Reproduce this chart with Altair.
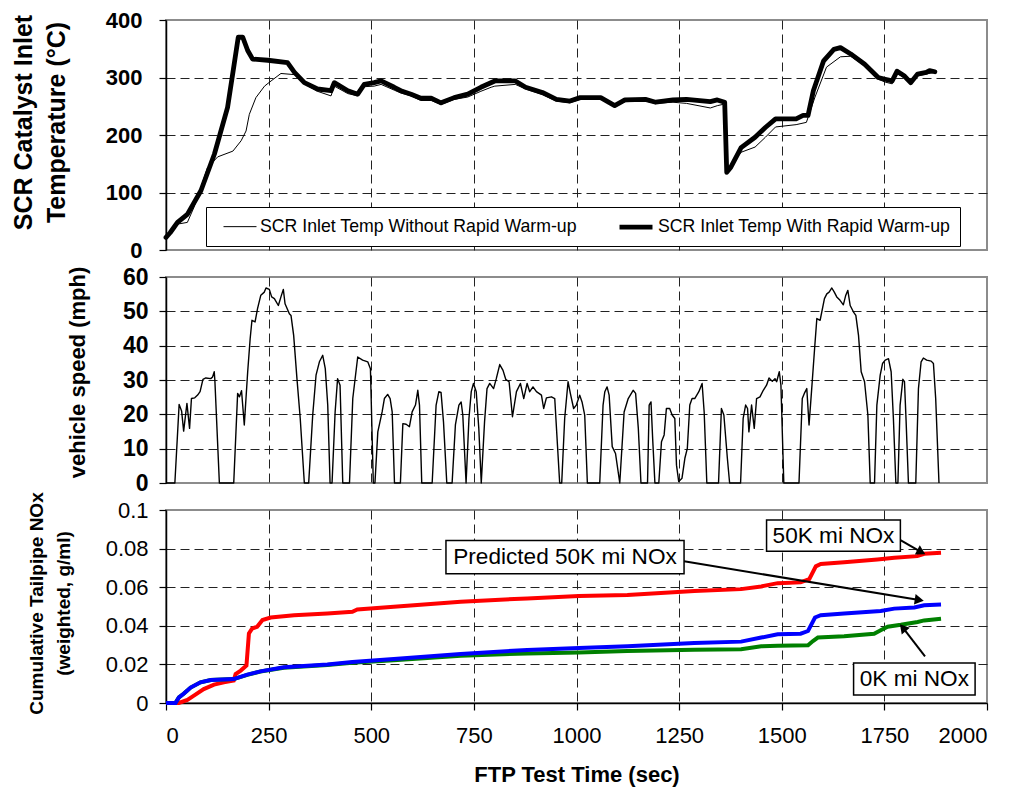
import altair as alt
import pandas as pd

FONT = "Liberation Sans"

# ---------------- data ----------------
# SCR inlet temperature without rapid warm-up (thin line)
temp_without_t = [0, 28, 52, 68, 85, 101, 126, 163, 183, 195, 203, 219, 240, 256, 280, 313, 337, 369,
                  402, 410, 443, 467, 483, 507, 524, 556, 572, 597, 621, 646, 670, 702, 735, 767, 792,
                  801, 851, 876, 917, 951, 984, 1009, 1059, 1093, 1118, 1168, 1193, 1235, 1268, 1326,
                  1343, 1361, 1366, 1376, 1401, 1435, 1460, 1485, 1535, 1560, 1581, 1609, 1643, 1668,
                  1702, 1735, 1752, 1769, 1781, 1798, 1814, 1831, 1852, 1873]
temp_without_v = [20, 45, 48, 74, 109, 143, 162, 172, 190, 207, 236, 265, 285, 294, 307, 305, 289, 276,
                  268, 285, 272, 268, 284, 285, 288, 278, 273, 268, 260, 260, 253, 262, 266, 276, 283,
                  285, 288, 280, 270, 259, 256, 262, 264, 249, 258, 259, 255, 257, 255, 247,
                  251, 254, 138, 147, 170, 179, 196, 214, 218, 222, 266, 318, 336, 337,
                  320, 297, 292, 289, 307, 300, 289, 303, 306, 309]

# SCR inlet temperature with rapid warm-up (thick line)
temp_with_t = [0, 10, 20, 28, 52, 85, 118, 150, 166, 176, 187, 199, 211, 248, 296, 313, 337, 369, 402,
               410, 443, 467, 483, 507, 524, 556, 572, 597, 621, 646, 670, 702, 735, 767, 801, 851, 876,
               917, 951, 984, 1009, 1059, 1093, 1118, 1168, 1193, 1235, 1268, 1326, 1343, 1361, 1366,
               1376, 1401, 1435, 1460, 1485, 1535, 1552, 1564, 1577, 1602, 1627, 1643, 1668, 1702,
               1735, 1752, 1769, 1781, 1798, 1814, 1831, 1852, 1860, 1873]
temp_with_v = [22, 30, 40, 48, 62, 103, 167, 248, 323, 370, 370, 347, 332, 330, 326, 309, 291, 280, 277,
               291, 277, 271, 288, 291, 294, 283, 277, 271, 264, 264, 256, 265, 271, 283, 294, 294, 283,
               274, 262, 259, 265, 265, 251, 261, 262, 257, 261, 262, 258, 261, 257, 135,
               144, 178, 196, 213, 228, 228, 234, 234, 277, 329, 349, 352, 341, 323,
               300, 297, 294, 311, 303, 291, 306, 309, 312, 310]

# vehicle speed (mph)
speed_t = [0, 21.6, 32, 38, 43, 51, 57.4, 62, 70, 77, 83, 90, 97, 109, 113.5, 117.5, 119, 130, 165,
           174.5, 179, 184, 190.7, 199, 205, 209.4, 217, 223, 231, 239.5, 243.6, 251.7, 257.4, 264,
           273.7, 280, 285.8, 290, 300.5, 304.5, 311, 319, 327, 337, 347.6, 357.4, 365.5, 373.7,
           381.8, 388, 394, 399.7, 404.5, 412, 418, 424, 430.6, 447, 455, 467, 479, 491.5, 498,
           505, 509, 516, 526.5, 532, 540, 546, 551, 556.6, 571, 577, 585, 593, 599.6, 607.7, 613.4,
           617.5, 623, 648.4, 658, 664.7, 670, 676, 684, 697, 705, 713.5, 719, 723, 731, 738, 743.6,
           749, 755.7, 762, 768, 776, 782, 788.6, 798, 804.6, 813, 821, 827.6, 835.8, 844, 853.7,
           863.4, 871.5, 879.7, 886, 894, 902.4, 914.6, 920, 926.7, 939, 947, 959, 964, 971.2,
           979.4, 985, 993, 999.6, 1007.8, 1013.5, 1020, 1026.5, 1056.6, 1064.7, 1069, 1074.5,
           1079.5, 1087, 1095, 1105.4, 1116, 1126, 1138, 1144, 1150.6, 1157, 1173, 1177, 1181.5,
           1185.5, 1191, 1200.5, 1207, 1213.5, 1219, 1227, 1233, 1239.5, 1243.6, 1249, 1257, 1264,
           1270, 1276, 1281.6, 1288, 1298, 1306, 1311, 1317.5, 1346, 1353, 1359, 1367.5, 1373,
           1399.7, 1406, 1412, 1416.7, 1420, 1426.5, 1433, 1438.7, 1447, 1455, 1463, 1469, 1477,
           1483.4, 1487.5, 1494, 1498, 1505, 1542, 1550, 1555, 1561, 1566.5, 1573, 1580, 1585.5,
           1593.5, 1604, 1609.8, 1615.4, 1622, 1628, 1634, 1642, 1650, 1656, 1661, 1666.7, 1674.8,
           1680.5, 1687, 1693.5, 1701.7, 1709.8, 1715.5, 1726, 1731.7, 1739.8, 1745.5, 1752, 1760,
           1766.5, 1772, 1778, 1783, 1788.3, 1795, 1799, 1803, 1808.6, 1826.5, 1833, 1839.5, 1845,
           1853, 1864, 1869.5, 1875, 1883]
speed_v = [0, 0, 22.9, 21, 15.1, 23.2, 15.9, 24.6, 24.8, 25.6, 26.6, 30.2, 30.6, 30.4, 30.9, 32.4, 30, 0, 0,
           26.1, 25.1, 26.9, 16.9, 32.4, 42, 47.4, 46.9, 50.8, 54.7, 55.6, 56.8, 56.4, 54.2, 53.7,
           51.7, 54.2, 56.4, 52.2, 49.3, 48.8, 43, 30.4, 18.8, 0, 0, 19.8, 31.4, 35.3,
           37.2, 33.3, 22.7, 0, 0, 20.7, 30.4, 28.5, 0, 0, 24.6, 36.7, 35.8, 35.3, 33.3,
           0, 0, 14.9, 20.7, 24.6, 25.8, 24.6, 20.7, 0, 0, 17.3, 17.1, 16.4, 20.7, 22.7, 27,
           22.7, 0, 0, 22.7, 26.6, 26.4, 17.8, 0, 0, 16.9, 22.7, 23.6, 19.8, 0, 18.8, 26.6,
           29, 26.6, 15.9, 0, 17.8, 27.5, 29, 27.5, 30.4, 34.5, 32.8, 30.2, 29.5, 19.3, 26.6,
           29, 24.6, 29, 26.6, 28, 26.6, 25.6, 21.7, 24.8, 25.1, 24.6, 0, 0, 18.8,
           29.5, 26.1, 21.7, 22.7, 25.6, 23.6, 19.8, 0, 0, 22.7, 26.6, 28,
           25.6, 10.6, 8.6, 0, 20.7, 24.6, 27, 26.1, 15.9, 0, 0, 22.7, 23.6,
           13, 0, 0, 12, 14, 21.7, 21.7, 19.8, 18.8, 5.2, 0.4, 1.4, 7.2,
           10.1, 22.7, 24.6, 24.6, 26.6, 29, 20.7, 0, 0, 21.7, 19.8, 7.2, 0,
           0, 18.8, 22.7, 21.7, 14.9, 22.7, 15.9, 24.6, 25.1, 27, 28.5, 30.6, 29.6,
           30.4, 29.5, 32.4, 28.5, 0, 0, 24.6, 26.1, 27.5, 16.9, 27.5, 39.1, 47.9,
           47.4, 53.7, 55.1, 55.6, 56.8, 55.6, 54.2, 53.2, 51.9, 54.7, 56.1, 51.7, 49.8,
           48.8, 43, 32.4, 29.5, 19.8, 0, 0, 22.7, 31.4, 34.8, 35.8, 36.2,
           32.4, 18.8, 0, 0, 22.7, 30.2, 29.5, 17.8, 0, 0, 27.5, 35.3, 36.4,
           35.8, 35.5, 34.8, 24.6, 0]

# cumulative tailpipe NOx (weighted, g/mi)
nox50_t = [0, 31.5, 52, 68, 92, 117, 141, 165, 169.6, 182, 196, 202, 210, 222, 235, 255, 312, 393, 454,
           466, 555, 718, 880, 1006, 1124, 1287, 1401, 1450, 1490, 1546, 1567, 1583, 1595, 1652,
           1733, 1774, 1830, 1847, 1888]
nox50_v = [0, 0, 0.0016, 0.0038, 0.0072, 0.0095, 0.0107, 0.0116, 0.015, 0.0168, 0.0194, 0.036, 0.0386,
           0.0395, 0.043, 0.0443, 0.0455, 0.0464, 0.0473, 0.0485, 0.0499, 0.0525, 0.0542, 0.0554,
           0.056, 0.058, 0.059, 0.0604, 0.0621, 0.0625, 0.0642, 0.0708, 0.072, 0.0729, 0.0743,
           0.0752, 0.0761, 0.0773, 0.0778]
noxpred_t = [0, 23, 31.5, 43.7, 60, 84, 109, 165, 198, 230, 287, 393, 454, 555, 718, 880, 1006, 1124,
             1287, 1401, 1450, 1490, 1546, 1564, 1581, 1595, 1652, 1741, 1774, 1823, 1847, 1888]
noxpred_v = [0, 0, 0.0029, 0.0049, 0.008, 0.0107, 0.0119, 0.0124, 0.0147, 0.0164, 0.0185, 0.0199,
             0.0213, 0.0228, 0.0254, 0.0275, 0.0285, 0.0294, 0.0311, 0.0318, 0.0339, 0.0356, 0.0359,
             0.0373, 0.0443, 0.0455, 0.0464, 0.0477, 0.0489, 0.0495, 0.0506, 0.051]
nox0_t = [0, 23, 31.5, 43.7, 60, 84, 109, 165, 198, 230, 287, 393, 454, 555, 718, 880, 1006, 1124, 1287,
          1401, 1450, 1490, 1564, 1576, 1588, 1652, 1725, 1741, 1758, 1790, 1831, 1847, 1888]
nox0_v = [0, 0, 0.0029, 0.0049, 0.008, 0.0107, 0.0119, 0.0124, 0.0146, 0.0163, 0.0183, 0.0197, 0.0209,
          0.0222, 0.0245, 0.0257, 0.0262, 0.0269, 0.0276, 0.0279, 0.0294, 0.0297, 0.0299, 0.0321,
          0.0339, 0.0346, 0.0359, 0.0377, 0.0395, 0.0405, 0.042, 0.0428, 0.0437]

# annotations (data coordinates)
box_labels = ["Predicted 50K mi NOx", "50K mi NOx", "0K mi NOx"]
box_t1 = [682, 1463, 1675]
box_t2 = [1262, 1789, 1971]
box_v1 = [0.0670, 0.0786, 0.0042]
box_v2 = [0.0842, 0.0948, 0.0207]
arrow_t1 = [1262, 1786, 1849]
arrow_v1 = [0.0734, 0.0848, 0.0242]
arrow_t2 = [1835, 1840, 1795]
arrow_v2 = [0.0534, 0.0782, 0.0390]
arrow_angle = [9, 28, 230]

# ---------------- frames ----------------
S_WO = "SCR Inlet Temp Without Rapid Warm-up"
S_W = "SCR Inlet Temp With Rapid Warm-up"
top_df = pd.concat([
    pd.DataFrame({"t": temp_without_t, "v": temp_without_v, "series": S_WO}),
    pd.DataFrame({"t": temp_with_t, "v": temp_with_v, "series": S_W}),
])
speed_df = pd.DataFrame({"t": speed_t, "v": speed_v})
nox_df = pd.concat([
    pd.DataFrame({"t": nox0_t, "v": nox0_v, "s": "0K"}),
    pd.DataFrame({"t": nox50_t, "v": nox50_v, "s": "50K"}),
    pd.DataFrame({"t": noxpred_t, "v": noxpred_v, "s": "pred"}),
])
box_df = pd.DataFrame({"label": box_labels, "t": box_t1, "t2": box_t2, "v": box_v1, "v2": box_v2})
box_df["tc"] = (box_df["t"] + box_df["t2"]) / 2
box_df["vc"] = (box_df["v"] + box_df["v2"]) / 2
arrow_df = pd.DataFrame({"t": arrow_t1, "v": arrow_v1, "t2": arrow_t2, "v2": arrow_v2, "ang": arrow_angle})

W = 821
XVALS = list(range(0, 2001, 250))
xscale = alt.Scale(domain=[0, 2000], nice=False, zero=False)
GRID = dict(grid=True, gridDash=[9, 5], gridColor="#222222", gridWidth=1, labelOverlap=False, tickCount=30)


def hide_edges(lo, hi):
    return {"condition": {"test": f"datum.value <= {lo} || datum.value >= {hi}", "value": 0}, "value": 1}


x_hidden = alt.Axis(title=None, labels=False, ticks=False, domain=False, values=XVALS,
                    gridOpacity=hide_edges(0, 2000), **GRID)

# ---------------- top panel ----------------
top = alt.Chart(top_df).mark_line(color="black", strokeJoin="round", strokeCap="round").encode(
    x=alt.X("t:Q", scale=xscale, axis=x_hidden),
    y=alt.Y("v:Q", scale=alt.Scale(domain=[0, 400], nice=False),
            axis=alt.Axis(values=[0, 100, 200, 300, 400], title=["SCR Catalyst Inlet", "Temperature (°C)"],
                          titleX=-155, titleY=102, titleAngle=270, titleBaseline="top", titleAlign="center",
                          titleFontSize=25, titleLineHeight=33, titleFontWeight="bold",
                          labelFontSize=22, labelFontWeight="bold", tickSize=7, labelPadding=17,
                          gridOpacity=hide_edges(0, 400), **GRID)),
    strokeWidth=alt.StrokeWidth("series:N", scale=alt.Scale(domain=[S_WO, S_W], range=[1, 4.8]),
                                legend=alt.Legend(orient="none", legendX=40, legendY=187, direction="horizontal",
                                                  title=None, symbolType="M-2,0H2", symbolSize=272,
                                                  symbolStrokeColor="black", labelFont=FONT, labelFontSize=17.7,
                                                  labelColor="black", labelLimit=600, labelOffset=11,
                                                  columnPadding=32, padding=9, symbolOffset=16,
                                                  strokeColor="black", fillColor="white")),
).properties(width=W, height=230)

# ---------------- middle panel ----------------
mid = alt.Chart(speed_df).mark_line(color="black", strokeWidth=1.4, strokeJoin="round").encode(
    x=alt.X("t:Q", scale=xscale, axis=x_hidden),
    y=alt.Y("v:Q", scale=alt.Scale(domain=[0, 60], nice=False),
            axis=alt.Axis(values=[0, 10, 20, 30, 40, 50, 60], title="vehicle speed (mph)",
                          titleX=-99, titleY=95, titleAngle=270, titleBaseline="top", titleAlign="center",
                          titleFontSize=22, titleFontWeight="bold",
                          labelFontSize=23, labelFontWeight="bold", tickSize=7, labelPadding=11,
                          gridOpacity=hide_edges(0, 60), **GRID)),
).properties(width=W, height=206)

# ---------------- bottom panel ----------------
x_bot = alt.X("t:Q", scale=xscale,
              axis=alt.Axis(values=XVALS, format="d", title="FTP Test Time (sec)", titleFontSize=22,
                            titleFontWeight="bold", titleY=61, titleBaseline="top", labelFontSize=22,
                            tickSize=7, labelPadding=15, gridOpacity=hide_edges(0, 2000), **GRID))
yscale_b = alt.Scale(domain=[0, 0.1], nice=False)
y_bot = alt.Y("v:Q", scale=yscale_b,
              axis=alt.Axis(values=[0, 0.02, 0.04, 0.06, 0.08, 0.1], format=".2~f",
                            title=["Cumulative Tailpipe NOx", "(weighted, g/ml)"],
                            titleX=-139, titleY=93, titleAngle=270, titleBaseline="top", titleAlign="center",
                            titleFontSize=19, titleLineHeight=27, titleFontWeight="bold",
                            labelFontSize=22, tickSize=7, labelPadding=11,
                            gridOpacity=hide_edges(0.001, 0.099), **GRID))

base_b = alt.Chart(nox_df)
l_green = base_b.transform_filter("datum.s == '0K'").mark_line(color="#008000", strokeWidth=4).encode(x=x_bot, y=y_bot)
l_red = base_b.transform_filter("datum.s == '50K'").mark_line(color="#ff0000", strokeWidth=4).encode(x=x_bot, y=y_bot)
l_blue = base_b.transform_filter("datum.s == 'pred'").mark_line(color="#0000ff", strokeWidth=4).encode(x=x_bot, y=y_bot)

arrows = alt.Chart(arrow_df).mark_rule(color="black", strokeWidth=2).encode(
    x=x_bot, y=y_bot, x2="t2:Q", y2="v2:Q")
heads = alt.Chart(arrow_df).mark_point(shape="triangle-right", filled=True, color="black", size=110, opacity=1).encode(
    x=alt.X("t2:Q", scale=xscale), y=alt.Y("v2:Q", scale=yscale_b), angle=alt.Angle("ang:Q", scale=None))
boxes = alt.Chart(box_df).mark_rect(fill="white", stroke="black", strokeWidth=1.5).encode(
    x=x_bot, y=y_bot, x2="t2:Q", y2="v2:Q")
btext = alt.Chart(box_df).mark_text(font=FONT, fontSize=22.6, color="black", align="center", baseline="middle").encode(
    x=alt.X("tc:Q", scale=xscale), y=alt.Y("vc:Q", scale=yscale_b), text="label:N")

bot = alt.layer(l_red, l_green, l_blue, arrows, heads, boxes, btext).properties(width=W, height=193)

chart = alt.vconcat(top, mid, bot, spacing=27, bounds="flush").properties(
    padding={"left": 10, "top": 8, "right": 2, "bottom": 1}, background="white"
).configure_view(stroke="#8c8c8c", strokeWidth=2).configure_axis(
    labelFont=FONT, titleFont=FONT, labelColor="black", titleColor="black",
    domainColor="black", domainWidth=1.5, tickColor="black", tickWidth=1.2
).configure_legend(labelFont=FONT)

chart.save("out.html", embed_options={"renderer": "svg", "actions": False})
